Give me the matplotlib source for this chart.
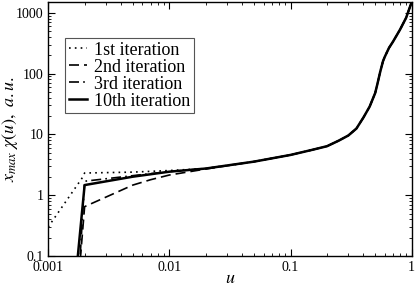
import numpy as np
import matplotlib
matplotlib.use("Agg")
import matplotlib.pyplot as plt
from matplotlib.ticker import FixedLocator, FixedFormatter, LogLocator, NullFormatter

plt.rcParams['font.family'] = ['Liberation Serif', 'DejaVu Serif']
plt.rcParams['mathtext.fontset'] = 'stix'

# shared tail of all iterations
u_tail = [0.05, 0.1, 0.15, 0.2, 0.25, 0.3, 0.35, 0.4, 0.45, 0.5, 0.52, 0.55, 0.58, 0.6, 0.65, 0.7, 0.8, 0.9, 1.0]
y_tail = [3.57, 4.6, 5.56, 6.4, 7.9, 9.6, 12.5, 19, 28.7, 48, 66, 107, 160, 189, 265, 333, 525, 828, 1500]

# heads (small u) for each iteration
u_1st = [0.001, 0.0019, 0.002, 0.005, 0.01, 0.02]
y_1st = [0.3, 1.9, 2.32, 2.4, 2.55, 2.75]
u_2nd = [0.0018, 0.002, 0.005, 0.007, 0.01, 0.02]
y_2nd = [0.05, 0.65, 1.47, 1.8, 2.15, 2.7]
u_3rd = [0.0018, 0.002, 0.005, 0.01, 0.02]
y_3rd = [0.05, 1.7, 2.1, 2.45, 2.75]
u_10th = [0.0017, 0.002, 0.005, 0.01, 0.02]
y_10th = [0.05, 1.47, 2.02, 2.44, 2.75]

labels = ['1st iteration', '2nd iteration', '3rd iteration', '10th iteration']
xticks = [0.001, 0.01, 0.1, 1]
xticklabels = ['0.001', '0.01', '0.1', '1']
yticks = [0.1, 1, 10, 100, 1000]
yticklabels = ['0.1', '1', '10', '100', '1000']

fig = plt.figure(figsize=(4.15, 2.92), dpi=100)
ax = fig.add_axes([0.116, 0.123, 0.876, 0.870])

styles = [
    dict(ls=(0, (1, 2.5)), lw=1.2),
    dict(ls=(0, (6, 3)), lw=1.2),
    dict(ls=(0, (6, 2.5, 1, 2.5)), lw=1.2),
    dict(ls='-', lw=1.8),
]
heads = [(u_1st, y_1st), (u_2nd, y_2nd), (u_3rd, y_3rd), (u_10th, y_10th)]
for (uh, yh), st, lab in zip(heads, styles, labels):
    ax.plot(uh + u_tail, yh + y_tail, color='black', label=lab, **st)

ax.set_xscale('log')
ax.set_yscale('log')
ax.set_xlim(0.001, 1)
ax.set_ylim(0.1, 1500)
ax.xaxis.set_major_locator(FixedLocator(xticks))
ax.xaxis.set_major_formatter(FixedFormatter(xticklabels))
ax.yaxis.set_major_locator(FixedLocator(yticks))
ax.yaxis.set_major_formatter(FixedFormatter(yticklabels))
ax.xaxis.set_minor_locator(LogLocator(subs=np.arange(2, 10)))
ax.yaxis.set_minor_locator(LogLocator(subs=np.arange(2, 10)))
ax.xaxis.set_minor_formatter(NullFormatter())
ax.yaxis.set_minor_formatter(NullFormatter())
ax.tick_params(which='both', direction='in', top=True, right=True, labelsize=10)
ax.tick_params(which='major', length=5)
ax.tick_params(which='minor', length=2.5)
for s in ax.spines.values():
    s.set_linewidth(1.0)

ax.set_xlabel('$u$', fontsize=13, labelpad=-3)
ax.set_ylabel(r'$x_{max}\ \chi(u),\ a.u.$', fontsize=13, labelpad=-3)

leg = ax.legend(loc='upper left', bbox_to_anchor=(0.047, 0.858), fontsize=13,
                handlelength=1.0, handletextpad=0.4, labelspacing=0.0,
                borderpad=0.2, borderaxespad=0, fancybox=False, framealpha=1,
                edgecolor='#555555')
leg.get_frame().set_linewidth(0.8)

fig.savefig('out.png', dpi=100)
